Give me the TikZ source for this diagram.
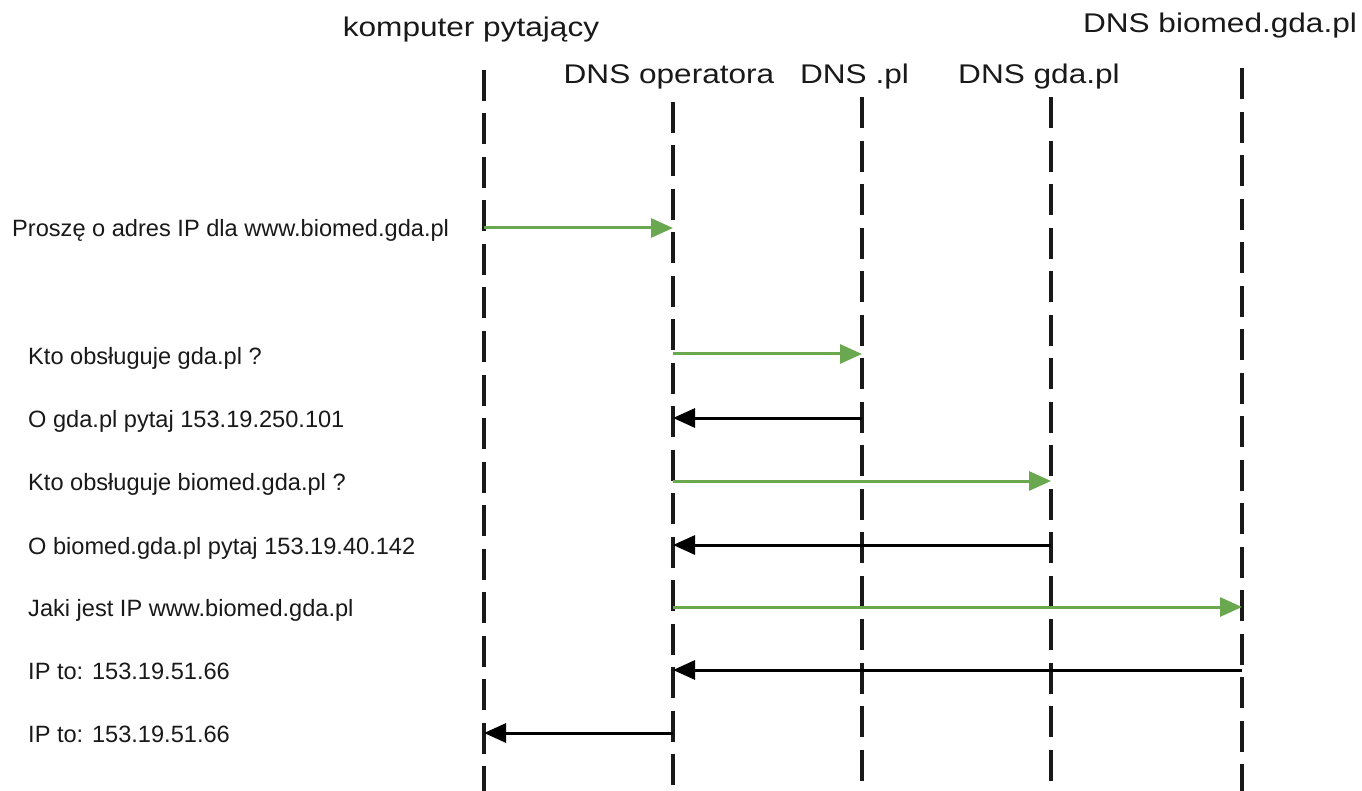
\documentclass[tikz,border=0pt]{standalone}
\usepackage{fontspec}
\setmainfont{Liberation Sans}
\newfontfamily\titlefont[FakeStretch=1.17]{Liberation Sans}
\usetikzlibrary{arrows.meta}
\definecolor{arrowgreen}{RGB}{106,168,79}
\definecolor{txt}{RGB}{25,25,25}
\begin{document}
\begin{tikzpicture}[x=1pt,y=-1pt,
  lifeline/.style={line width=3.4pt,dash pattern=on 31pt off 12.5pt,black!90},
  titlelbl/.style={anchor=base,inner sep=0pt,text=txt,font=\titlefont\fontsize{27}{30}\selectfont},
  msglbl/.style={anchor=base west,inner sep=0pt,text=txt,font=\fontsize{23.6}{27}\selectfont},
  req/.style={draw=arrowgreen,line width=3pt,-{Triangle[length=22pt,width=19pt]},arrowgreen},
  resp/.style={draw=black,line width=3pt,-{Triangle[length=22pt,width=19pt]}}]
\useasboundingbox (0,0) rectangle (1362,791);
\fill[white] (0,0) rectangle (1362,791);

% titles
\node[titlelbl] (t1) at (471,36.7) {komputer pytający};
\node[titlelbl] (t2) at (669,84) {DNS operatora};
\node[titlelbl] (t3) at (854.5,84) {DNS .pl};
\node[titlelbl] (t4) at (1039,84) {DNS gda.pl};
\node[titlelbl] (t5) at (1220,33) {DNS biomed.gda.pl};

% lifelines
\coordinate (L1top) at (484,70);   \coordinate (L1bot) at (484,800);
\coordinate (L2top) at (673,101.7);\coordinate (L2bot) at (673,800);
\coordinate (L3top) at (862,97.3); \coordinate (L3bot) at (862,800);
\coordinate (L4top) at (1051,97.3);\coordinate (L4bot) at (1051,800);
\coordinate (L5top) at (1242,68.3);\coordinate (L5bot) at (1242,800);
\draw[lifeline] (L1top) -- (L1bot);
\draw[lifeline] (L2top) -- (L2bot);
\draw[lifeline] (L3top) -- (L3bot);
\draw[lifeline] (L4top) -- (L4bot);
\draw[lifeline] (L5top) -- (L5bot);

% message points
\coordinate (m1a) at (484,228);  \coordinate (m1b) at (673,228);
\coordinate (m2a) at (673,354);  \coordinate (m2b) at (862,354);
\coordinate (m3a) at (862,418);  \coordinate (m3b) at (673,418);
\coordinate (m4a) at (673,481);  \coordinate (m4b) at (1051,481);
\coordinate (m5a) at (1051,545); \coordinate (m5b) at (673,545);
\coordinate (m6a) at (673,607);  \coordinate (m6b) at (1242,607);
\coordinate (m7a) at (1242,670); \coordinate (m7b) at (673,670);
\coordinate (m8a) at (673,733);  \coordinate (m8b) at (484,733);

\draw[req] (m1a) -- (m1b);
\draw[req] (m2a) -- (m2b);
\draw[resp] (m3a) -- (m3b);
\draw[req] (m4a) -- (m4b);
\draw[resp] (m5a) -- (m5b);
\draw[req] (m6a) -- (m6b);
\draw[resp] (m7a) -- (m7b);
\draw[resp] (m8a) -- (m8b);

% labels
\node[msglbl] (l1) at (12,237) {Proszę o adres IP dla www.biomed.gda.pl};
\node[msglbl] (l2) at (28,364) {Kto obsługuje gda.pl ?};
\node[msglbl] (l3) at (28,427) {O gda.pl pytaj 153.19.250.101};
\node[msglbl] (l4) at (28,490) {Kto obsługuje biomed.gda.pl ?};
\node[msglbl] (l5) at (28,554) {O biomed.gda.pl pytaj 153.19.40.142};
\node[msglbl] (l6) at (28,616) {Jaki jest IP www.biomed.gda.pl};
\node[msglbl] (l7) at (28,679) {IP to: 153.19.51.66};
\node[msglbl] (l8) at (28,742) {IP to: 153.19.51.66};
\end{tikzpicture}
\end{document}
